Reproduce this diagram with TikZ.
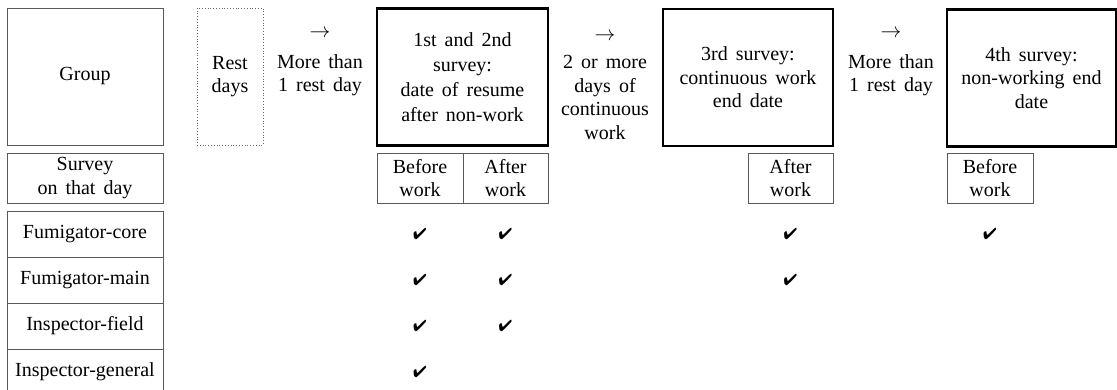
\documentclass[tikz,border=0pt]{standalone}
\usepackage{fontspec}
\setmainfont{Liberation Serif}
\usepackage{pifont}

\begin{document}
\begin{tikzpicture}[x=1pt,y=-1pt,
    font=\fontsize{20}{23.5}\selectfont,
    execute at begin node={\spaceskip=0.4em\relax},
    thinbox/.style={draw=black!65,line width=0.9pt,align=center,inner sep=0pt},
    thickbox/.style={draw=black,line width=2.8pt,align=center,inner sep=0pt,
      minimum width=170pt,minimum height=137pt},
    restbox/.style={draw=black!60,dotted,line width=0.8pt,align=center,inner sep=0pt},
    steptext/.style={align=center,inner sep=0pt},
    daybox/.style={thinbox,minimum width=86pt,minimum height=50pt},
    rowbox/.style={thinbox,minimum width=156pt,minimum height=46pt},
    chk/.style={font=\fontsize{16}{16}\selectfont,inner sep=0pt}]
  \useasboundingbox (0,0) rectangle (1117,390);
  % top row: steps of the survey
  \node[thinbox,minimum width=156pt,minimum height=137pt] (group) at (85,76.5) {Group};
  \node[restbox,minimum width=66pt,minimum height=137pt] (rest) at (230,76.5) {Rest\\days};
  \node[steptext] (gap1) at (320,63) {$\rightarrow$\\[7pt]More than\\1 rest day};
  \node[thickbox,minimum width=171pt,font=\fontsize{20}{25}\selectfont] (s12) at (462.5,77) {1st and 2nd\\survey:\\date of resume\\after non-work};
  \node[steptext] (gap2) at (605,86) {$\rightarrow$\\[5pt]2 or more\\days of\\continuous\\work};
  \node[thickbox] (s3) at (748,77.5) {3rd survey:\\continuous work\\end date};
  \node[steptext] (gap3) at (891,63) {$\rightarrow$\\[7pt]More than\\1 rest day};
  \node[thickbox,minimum width=169pt] (s4) at (1031.5,78) {4th survey:\\non-working end\\date};
  % survey row
  \node[thinbox,minimum width=156pt,minimum height=50pt] (survey) at (85,178) {Survey\\on that day};
  \node[daybox] (b12) at (420,178) {Before\\work};
  \node[daybox,minimum width=85pt] (a12) at (505.5,178) {After\\work};
  \node[daybox,minimum width=85pt] (a3) at (790.5,178) {After\\work};
  \node[daybox] (b4) at (990,178) {Before\\work};
  % groups
  \node[rowbox] (fcore) at (85,234) {Fumigator-core};
  \node[rowbox] (fmain) at (85,280) {Fumigator-main};
  \node[rowbox] (ifield) at (85,326) {Inspector-field};
  \node[rowbox] (igen) at (85,372) {Inspector-general};
  % checks
  \node[chk] (c11) at (b12 |- fcore) {\ding{52}};
  \node[chk] (c12) at (a12 |- fcore) {\ding{52}};
  \node[chk] (c13) at (a3 |- fcore) {\ding{52}};
  \node[chk] (c14) at (b4 |- fcore) {\ding{52}};
  \node[chk] (c21) at (b12 |- fmain) {\ding{52}};
  \node[chk] (c22) at (a12 |- fmain) {\ding{52}};
  \node[chk] (c23) at (a3 |- fmain) {\ding{52}};
  \node[chk] (c31) at (b12 |- ifield) {\ding{52}};
  \node[chk] (c32) at (a12 |- ifield) {\ding{52}};
  \node[chk] (c41) at (b12 |- igen) {\ding{52}};
\end{tikzpicture}
\end{document}
